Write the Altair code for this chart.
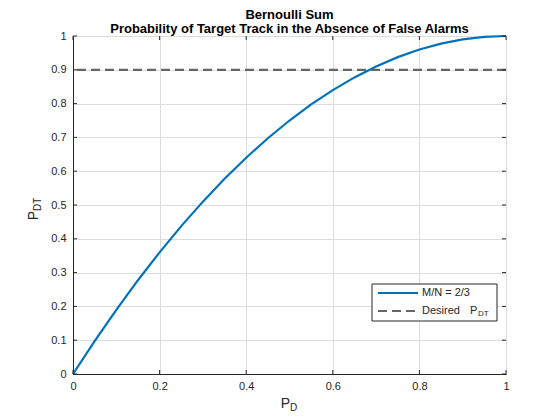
import altair as alt
import pandas as pd

# data
pd_vals = [0.0, 0.05, 0.1, 0.15, 0.2, 0.25, 0.3, 0.35, 0.4, 0.45, 0.5,
           0.55, 0.6, 0.65, 0.7, 0.75, 0.8, 0.85, 0.9, 0.95, 1.0]
pdt_vals = [0.0, 0.0975, 0.19, 0.2775, 0.36, 0.4375, 0.51, 0.5775, 0.64, 0.6975, 0.75,
            0.7975, 0.84, 0.8775, 0.91, 0.9375, 0.96, 0.9775, 0.99, 0.9975, 1.0]
desired_pdt = 0.9
x_ticks = [0, 0.2, 0.4, 0.6, 0.8, 1.0]
y_ticks = [0, 0.1, 0.2, 0.3, 0.4, 0.5, 0.6, 0.7, 0.8, 0.9, 1.0]
title_lines = ["Bernoulli Sum", "Probability of Target Track in the Absence of False Alarms"]
legend_labels = ["M/N = 2/3", "Desired"]

W, H = 433, 338
FONT = "Liberation Sans"
BLUE = "#0072BD"
GRAY = "#666666"

df = pd.DataFrame({"pd": pd_vals, "pdt": pdt_vals})
xs = alt.Scale(domain=[0, 1], nice=False)
ys = alt.Scale(domain=[0, 1], nice=False)

xaxis = alt.Axis(values=x_ticks, title=None, grid=True, gridColor="#dcdcdc",
                 tickSize=0, labelPadding=6, labelFont=FONT, labelFontSize=11,
                 labelColor="#262626", domainColor="#262626", labelOverlap=False,
                 labelFlush=False, format="~g")
yaxis = alt.Axis(values=y_ticks, title=None, grid=True, gridColor="#dcdcdc",
                 tickSize=0, labelPadding=7, labelFont=FONT, labelFontSize=11,
                 labelColor="#262626", domainColor="#262626", labelOverlap=False,
                 labelFlush=False, format="~g")

curve = alt.Chart(df).mark_line(color=BLUE, strokeWidth=2.2).encode(
    x=alt.X("pd:Q", scale=xs, axis=xaxis),
    y=alt.Y("pdt:Q", scale=ys, axis=yaxis),
)

hline = alt.Chart(pd.DataFrame({"y": [desired_pdt]})).mark_rule(
    color=GRAY, strokeWidth=2.2, strokeDash=[9, 5]).encode(
    y=alt.Y("y:Q", scale=ys, axis=yaxis))

xt = pd.DataFrame({"t": x_ticks})
yt = pd.DataFrame({"t": y_ticks})
tb = alt.Chart(xt).mark_rule(color="#262626").encode(
    x=alt.X("t:Q", scale=xs, axis=xaxis), y=alt.value(H), y2=alt.value(H - 4))
tt = alt.Chart(xt).mark_rule(color="#262626").encode(
    x=alt.X("t:Q", scale=xs, axis=xaxis), y=alt.value(0), y2=alt.value(4))
tl = alt.Chart(yt).mark_rule(color="#262626").encode(
    y=alt.Y("t:Q", scale=ys, axis=yaxis), x=alt.value(0), x2=alt.value(4))
tr = alt.Chart(yt).mark_rule(color="#262626").encode(
    y=alt.Y("t:Q", scale=ys, axis=yaxis), x=alt.value(W), x2=alt.value(W - 4))


def txt(s, x, y, size, angle=0, align="center", baseline="middle", bold=False,
        color="#262626"):
    return alt.Chart(pd.DataFrame({"s": [s]})).mark_text(
        font=FONT, fontSize=size, angle=angle, align=align, baseline=baseline,
        color=color, fontWeight="bold" if bold else "normal").encode(
        text="s:N", x=alt.value(x), y=alt.value(y))


# title (two lines)
title = (txt(title_lines[0], W / 2, -21, 13, bold=True, color="black")
         + txt(title_lines[1], W / 2, -7, 13, bold=True, color="black"))

# axis titles with subscripts
xlab = txt("P", 217, 368, 14, align="right") + txt("D", 217, 372, 10, align="left")
ylab = (txt("P", -39, 175, 14, angle=270, align="right")
        + txt("DT", -35, 175, 10, angle=270, align="left"))

# legend
lx0, lx1, ly0, ly1 = 299, 424, 248, 285
box = alt.Chart(pd.DataFrame({"a": [0]})).mark_rect(
    fill="white", stroke="#262626", strokeWidth=1).encode(
    x=alt.value(lx0), x2=alt.value(lx1), y=alt.value(ly0), y2=alt.value(ly1))
l1 = alt.Chart(pd.DataFrame({"a": [0]})).mark_rule(color=BLUE, strokeWidth=2.2).encode(
    x=alt.value(305), x2=alt.value(345), y=alt.value(257))
l2 = alt.Chart(pd.DataFrame({"a": [0]})).mark_rule(
    color=GRAY, strokeWidth=2.2, strokeDash=[9, 5]).encode(
    x=alt.value(305), x2=alt.value(345), y=alt.value(275))
t1 = txt(legend_labels[0], 349, 257, 11, align="left")
t2 = txt(legend_labels[1], 349, 275, 11, align="left")
t2p = txt("P", 397, 275, 11, align="left")
t2s = txt("DT", 405, 278, 8, align="left")

chart = alt.layer(
    curve, hline, tb, tt, tl, tr, title, xlab, ylab, box, l1, l2, t1, t2, t2p, t2s
).properties(
    width=W, height=H,
    autosize=alt.AutoSizeParams(type="none"),
    padding={"left": 65, "top": 28, "right": 46, "bottom": 38},
).configure_view(stroke="#262626", strokeWidth=1)

chart.save("out.html", embed_options={"renderer": "svg", "actions": False})
